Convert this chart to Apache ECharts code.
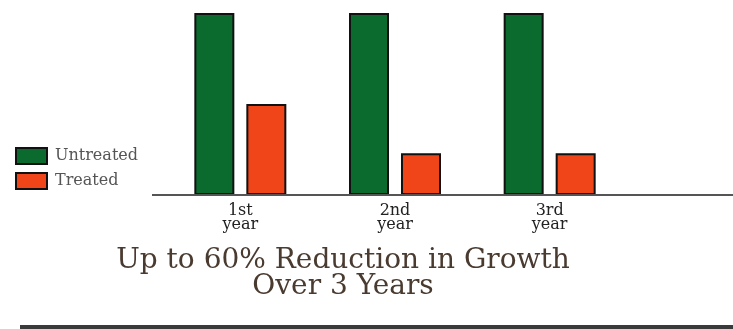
<!DOCTYPE html>
<html>
<head>
<meta charset="utf-8">
<script src="https://cdn.jsdelivr.net/npm/echarts@6/dist/echarts.min.js"></script>
<style>
  html, body { margin: 0; padding: 0; background: #fff; }
  #chart { width: 733px; height: 329px; }
</style>
</head>
<body>
<div id="chart"></div>
<script>
// data (untreated = 100)
var years = ['1st\nyear', '2nd\nyear', '3rd\nyear']
var untreated = [100, 100, 100]
var treated = [50, 23, 23]
var seriesNames = ['Untreated', 'Treated']

var chart = echarts.init(document.getElementById('chart'))
var option = {
  backgroundColor: '#fff',
  animation: false,
  title: {
    text: 'Up to 60% Reduction in Growth\nOver 3 Years',
    left: 338,
    textAlign: 'center',
    top: 243,
    textStyle: {
      fontFamily: 'DejaVu Serif',
      fontWeight: 'normal',
      fontSize: 28,
      lineHeight: 26,
      color: '#4a3b31'
    }
  },
  legend: {
    data: seriesNames,
    orient: 'vertical',
    left: 10,
    top: 142,
    itemWidth: 31,
    itemHeight: 16,
    itemGap: 7,
    icon: 'rect',
    textStyle: { fontFamily: 'DejaVu Serif', fontSize: 16, color: '#555', padding: [0, 0, 0, 3] }
  },
  grid: { left: 163, right: 106, top: 13, bottom: 134 },
  xAxis: {
    type: 'category',
    data: years,
    axisLine: { show: false },
    axisTick: { show: false },
    axisLabel: {
      margin: 9,
      fontFamily: 'DejaVu Serif',
      fontSize: 16,
      lineHeight: 14,
      color: '#222'
    }
  },
  yAxis: { type: 'value', min: 0, max: 100, show: false },
  series: [
    {
      name: seriesNames[0],
      type: 'bar',
      data: untreated,
      barWidth: 40,
      barGap: '30%',
      itemStyle: { color: '#0b6a2d', borderColor: '#111', borderWidth: 2 }
    },
    {
      name: seriesNames[1],
      type: 'bar',
      data: treated,
      barWidth: 40,
      itemStyle: { color: '#f04519', borderColor: '#111', borderWidth: 2 }
    }
  ],
  graphic: [
    {
      type: 'line',
      z: 10,
      shape: { x1: 152, y1: 195, x2: 733, y2: 195 },
      style: { stroke: '#555', lineWidth: 2 }
    },
    {
      type: 'line',
      shape: { x1: 20, y1: 327, x2: 733, y2: 327 },
      style: { stroke: '#3a3a3a', lineWidth: 4 }
    }
  ]
}
chart.setOption(option)
</script>
</body>
</html>
